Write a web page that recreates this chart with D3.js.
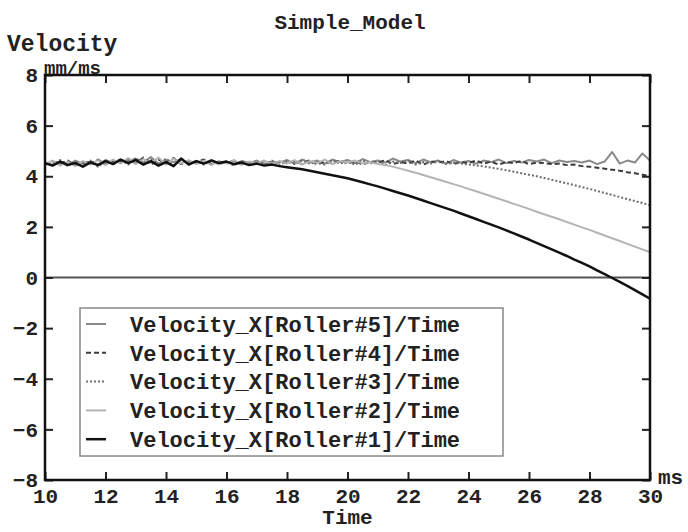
<!DOCTYPE html>
<html>
<head>
<meta charset="utf-8">
<script src="https://cdn.jsdelivr.net/npm/d3@7"></script>
<style>
  body { margin: 0; background: #fff; }
  text { font-family: "Liberation Mono", "DejaVu Sans Mono", monospace; font-weight: bold; fill: #222; }
</style>
</head>
<body>
<div id="chart"></div>
<script>
// sample times (ms)
const times = [10.00,10.25,10.50,10.75,11.00,11.25,11.50,11.75,12.00,12.25,12.50,12.75,13.00,13.25,13.50,13.75,
  14.00,14.25,14.50,14.75,15.00,15.25,15.50,15.75,16.00,16.25,16.50,16.75,17.00,17.25,17.50,17.75,
  18.00,18.25,18.50,18.75,19.00,19.25,19.50,19.75,20.00,20.25,20.50,20.75,21.00,21.25,21.50,21.75,
  22.00,22.25,22.50,22.75,23.00,23.25,23.50,23.75,24.00,24.25,24.50,24.75,25.00,25.25,25.50,25.75,
  26.00,26.25,26.50,26.75,27.00,27.25,27.50,27.75,28.00,28.25,28.50,28.75,29.00,29.25,29.50,29.75,30.00];

// Velocity_X per roller (mm/ms)
const roller1 = [4.52,4.42,4.58,4.45,4.52,4.38,4.55,4.44,4.60,4.48,4.66,4.52,4.64,4.46,4.60,4.42,
  4.56,4.40,4.70,4.46,4.60,4.50,4.62,4.52,4.58,4.48,4.54,4.44,4.50,4.42,4.46,4.40,
  4.36,4.32,4.28,4.22,4.16,4.10,4.04,3.98,3.92,3.84,3.76,3.68,3.60,3.51,3.42,3.33,
  3.24,3.14,3.04,2.94,2.84,2.74,2.64,2.53,2.42,2.31,2.20,2.09,1.98,1.86,1.74,1.62,
  1.50,1.37,1.24,1.11,0.98,0.85,0.71,0.58,0.44,0.28,0.13,-0.02,-0.17,-0.33,-0.50,-0.67,-0.84];
const roller2 = [4.48,4.62,4.42,4.58,4.40,4.60,4.46,4.64,4.44,4.66,4.50,4.72,4.48,4.68,4.52,4.74,
  4.46,4.70,4.50,4.64,4.48,4.62,4.44,4.60,4.50,4.64,4.46,4.58,4.52,4.62,4.48,4.60,
  4.50,4.64,4.46,4.60,4.52,4.66,4.48,4.60,4.54,4.62,4.50,4.56,4.48,4.44,4.38,4.30,
  4.22,4.14,4.05,3.96,3.87,3.78,3.69,3.60,3.50,3.41,3.31,3.21,3.11,3.01,2.91,2.81,
  2.71,2.60,2.50,2.40,2.30,2.19,2.09,1.98,1.88,1.77,1.66,1.55,1.44,1.33,1.22,1.11,1.00];
const roller3 = [4.52,4.44,4.64,4.40,4.58,4.46,4.62,4.38,4.60,4.54,4.66,4.46,4.72,4.50,4.66,4.48,
  4.70,4.44,4.64,4.52,4.58,4.46,4.62,4.48,4.56,4.42,4.60,4.50,4.58,4.46,4.62,4.44,
  4.60,4.48,4.62,4.50,4.56,4.46,4.64,4.50,4.58,4.46,4.62,4.50,4.60,4.44,4.58,4.52,
  4.62,4.46,4.56,4.50,4.60,4.48,4.54,4.50,4.47,4.43,4.39,4.34,4.29,4.24,4.18,4.12,
  4.06,4.00,3.93,3.86,3.79,3.72,3.65,3.57,3.50,3.42,3.34,3.26,3.18,3.10,3.02,2.94,2.86];
const roller4 = [4.46,4.58,4.50,4.62,4.44,4.56,4.50,4.66,4.48,4.60,4.56,4.68,4.50,4.74,4.46,4.66,
  4.52,4.72,4.48,4.60,4.54,4.66,4.48,4.58,4.52,4.62,4.46,4.56,4.50,4.60,4.44,4.58,
  4.52,4.60,4.48,4.64,4.46,4.58,4.52,4.62,4.50,4.60,4.46,4.58,4.52,4.64,4.48,4.56,
  4.50,4.62,4.46,4.58,4.54,4.60,4.48,4.56,4.52,4.62,4.50,4.58,4.46,4.56,4.52,4.60,
  4.48,4.54,4.52,4.48,4.50,4.44,4.46,4.40,4.38,4.34,4.30,4.26,4.22,4.16,4.12,4.06,4.00];
const roller5 = [4.56,4.46,4.54,4.42,4.62,4.50,4.58,4.46,4.64,4.52,4.62,4.58,4.70,4.54,4.76,4.50,
  4.64,4.56,4.68,4.50,4.60,4.52,4.64,4.50,4.58,4.46,4.60,4.52,4.62,4.48,4.58,4.54,
  4.64,4.50,4.66,4.54,4.62,4.50,4.66,4.56,4.64,4.52,4.68,4.56,4.62,4.54,4.70,4.58,
  4.64,4.52,4.66,4.56,4.62,4.50,4.64,4.54,4.60,4.50,4.62,4.56,4.66,4.52,4.60,4.54,
  4.64,4.58,4.66,4.52,4.62,4.56,4.60,4.54,4.62,4.48,4.58,4.96,4.50,4.62,4.54,4.90,4.62];

const seriesNames = ["Velocity_X[Roller#5]/Time", "Velocity_X[Roller#4]/Time", "Velocity_X[Roller#3]/Time",
  "Velocity_X[Roller#2]/Time", "Velocity_X[Roller#1]/Time"];
const seriesValues = [roller5, roller4, roller3, roller2, roller1];
const xTicks = [10, 12, 14, 16, 18, 20, 22, 24, 26, 28, 30];
const yTicks = [-8, -6, -4, -2, 0, 2, 4, 6, 8];

// line look per series, same order as seriesNames
const styles = [
  { color: "#8a8a8a", width: 2, dash: null },
  { color: "#3c3c3c", width: 2, dash: "5,3" },
  { color: "#6e6e6e", width: 2, dash: "2,2" },
  { color: "#b4b4b4", width: 2, dash: null },
  { color: "#111111", width: 2.5, dash: null }
];

const W = 688, H = 532;
const margin = { top: 75, right: 38, bottom: 52, left: 45 };
const width = W - margin.left - margin.right;
const height = H - margin.top - margin.bottom;

const svg = d3.select("#chart").append("svg")
  .attr("width", W)
  .attr("height", H);

const g = svg.append("g")
  .attr("transform", `translate(${margin.left},${margin.top})`);

const x = d3.scaleLinear().domain([10, 30]).range([0, width]);
const y = d3.scaleLinear().domain([-8, 8]).range([height, 0]);

g.append("defs").append("clipPath")
  .attr("id", "clip")
  .append("rect")
  .attr("width", width)
  .attr("height", height);

// zero line
g.append("line")
  .attr("x1", 0).attr("x2", width)
  .attr("y1", y(0)).attr("y2", y(0))
  .attr("stroke", "#555")
  .attr("stroke-width", 2);

// series lines
const line = d3.line()
  .defined(d => d[1] != null)
  .x(d => x(d[0]))
  .y(d => y(d[1]));

seriesValues.forEach((vals, i) => {
  const pts = times.map((t, j) => [t, vals[j]]);
  g.append("path")
    .datum(pts)
    .attr("clip-path", "url(#clip)")
    .attr("fill", "none")
    .attr("stroke", styles[i].color)
    .attr("stroke-width", styles[i].width)
    .attr("stroke-dasharray", styles[i].dash)
    .attr("stroke-linejoin", "round")
    .attr("d", line);
});

// axes with inward ticks
const tickLen = 8;
const xAxis = g.append("g")
  .attr("transform", `translate(0,${height})`)
  .call(d3.axisBottom(x).tickValues(xTicks).tickSizeInner(-tickLen).tickSizeOuter(0).tickPadding(8));
const xAxisTop = g.append("g")
  .call(d3.axisTop(x).tickValues(xTicks).tickSizeInner(-tickLen).tickSizeOuter(0).tickFormat(""));
const yAxis = g.append("g")
  .call(d3.axisLeft(y).tickValues(yTicks).tickSizeInner(-tickLen).tickSizeOuter(0).tickPadding(7));
const yAxisRight = g.append("g")
  .attr("transform", `translate(${width},0)`)
  .call(d3.axisRight(y).tickValues(yTicks).tickSizeInner(-tickLen).tickSizeOuter(0).tickFormat(""));

[xAxis, xAxisTop, yAxis, yAxisRight].forEach(a => {
  a.select(".domain").remove();
  a.selectAll(".tick line").attr("stroke", "#222").attr("stroke-width", 2);
  a.selectAll("text")
    .attr("fill", "#222")
    .style("font-family", "'Liberation Mono', monospace")
    .style("font-weight", "bold")
    .style("font-size", "21px");
});

// frame
g.append("rect")
  .attr("width", width)
  .attr("height", height)
  .attr("fill", "none")
  .attr("stroke", "#111")
  .attr("stroke-width", 2.5);

// titles and units
svg.append("text")
  .attr("x", W / 2 + 6)
  .attr("y", 29)
  .attr("text-anchor", "middle")
  .style("font-size", "21px")
  .text("Simple_Model");

svg.append("text")
  .attr("x", 7)
  .attr("y", 51)
  .style("font-size", "23px")
  .text("Velocity");

svg.append("text")
  .attr("x", 44)
  .attr("y", 74)
  .style("font-size", "19px")
  .text("mm/ms");

svg.append("text")
  .attr("x", 658)
  .attr("y", 484)
  .style("font-size", "21px")
  .text("ms");

svg.append("text")
  .attr("x", margin.left + width / 2)
  .attr("y", 524)
  .attr("text-anchor", "middle")
  .style("font-size", "21px")
  .text("Time");

// legend
const legend = svg.append("g")
  .attr("transform", "translate(80,308)");

legend.append("rect")
  .attr("width", 423)
  .attr("height", 148)
  .attr("fill", "#fff")
  .attr("stroke", "#888")
  .attr("stroke-width", 1.5);

const rowH = 28.8;
const rows = legend.selectAll(".row")
  .data(seriesNames)
  .join("g")
  .attr("class", "row")
  .attr("transform", (d, i) => `translate(0,${16 + i * rowH})`);

rows.append("line")
  .attr("x1", 6).attr("x2", 26)
  .attr("y1", 0).attr("y2", 0)
  .attr("stroke", (d, i) => styles[i].color)
  .attr("stroke-width", (d, i) => styles[i].width)
  .attr("stroke-dasharray", (d, i) => styles[i].dash);

rows.append("text")
  .attr("x", 50)
  .attr("y", 0)
  .attr("dy", "0.35em")
  .style("font-size", "22px")
  .text(d => d);
</script>
</body>
</html>
